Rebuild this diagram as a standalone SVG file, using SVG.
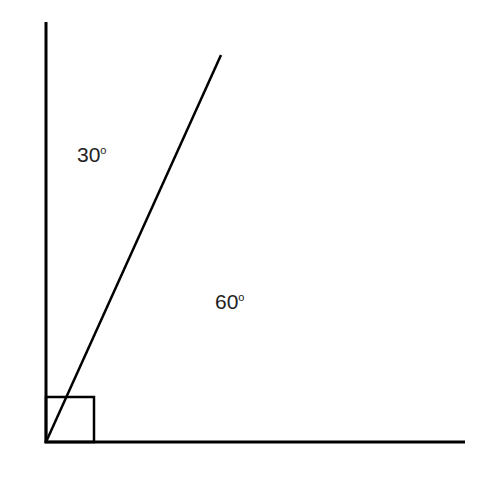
<svg xmlns="http://www.w3.org/2000/svg" width="482" height="480" viewBox="0 0 482 480">
<style>
.ln{stroke:#000;stroke-width:3;fill:none;stroke-linecap:butt}
.dg{stroke:#000;stroke-width:2.5;fill:none}
.sq{stroke:#000;stroke-width:2.5;fill:none}
.t{font-family:"Liberation Sans",Arial,sans-serif;font-size:21px;fill:#222}
.d{font-size:11px}
</style>
<rect width="482" height="480" fill="#fff"/>
<g id="connectors">
<line class="ln" x1="46" y1="22" x2="46" y2="443"/>
<line class="ln" x1="44.5" y1="442" x2="465" y2="442"/>
<line class="dg" x1="46" y1="442" x2="221" y2="55"/>
</g>
<g id="right-angle"><rect class="sq" x="46" y="397" width="48" height="45"/></g>
<g id="label-30"><text class="t" x="77" y="162">30<tspan class="d" dy="-8">o</tspan></text></g>
<g id="label-60"><text class="t" x="215" y="309">60<tspan class="d" dy="-8">o</tspan></text></g>
</svg>
